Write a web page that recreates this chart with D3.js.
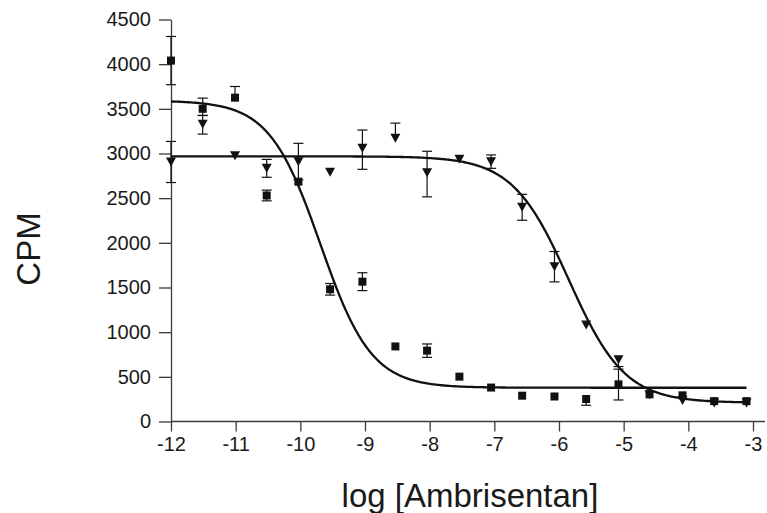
<!DOCTYPE html>
<html><head><meta charset="utf-8">
<script src="https://cdn.jsdelivr.net/npm/d3@7"></script>
<style>body{margin:0;background:#fff}svg{display:block}text{font-family:"Liberation Sans",Arial,sans-serif;fill:#1a1a1a}</style>
</head><body><svg id="c" width="767" height="513"></svg>
<script>
// log concentration of each dose
const logConc = [-12, -11.51, -11.01, -10.52, -10.03, -9.54, -9.04, -8.53, -8.04, -7.54, -7.05, -6.57, -6.07, -5.58, -5.08, -4.6, -4.09, -3.6, -3.1];
// squares
const sqCPM  = [4040, 3500, 3625, 2530, 2685, 1480, 1565, 840, 793, 502, 380, 289, 280, 252, 416, 304, 293, 228, 228];
const sqErrUp = [270, 120, 125, 60, 0, 65, 100, 0, 75, 0, 0, 0, 0, 0, 170, 0, 0, 0, 0];
const sqErrDn = [270, 75, 0, 60, 0, 65, 100, 0, 75, 0, 0, 0, 0, 70, 175, 0, 0, 0, 0];
// triangles
const trCPM  = [2905, 3327, 2976, 2834, 2909, 2790, 3058, 3170, 2785, 2936, 2909, 2398, 1733, 1080, 690, 300, 235, 207, 207];
const trErrUp = [230, 100, 0, 100, 205, 0, 205, 170, 240, 0, 75, 145, 170, 0, 0, 0, 0, 0, 0];
const trErrDn = [230, 110, 0, 100, 205, 0, 235, 0, 270, 0, 75, 145, 170, 0, 75, 0, 0, 0, 0];
// fitted curves: [top, bottom, logIC50, hill]
const sqFit = [3592, 378, -9.69, 1.1];
const trFit = [2968, 210, -5.85, 1.0];
const yTicks = [0, 500, 1000, 1500, 2000, 2500, 3000, 3500, 4000, 4500];
const xTicks = [-12, -11, -10, -9, -8, -7, -6, -5, -4, -3];

const svg = d3.select("#c");
const x = d3.scaleLinear().domain([-12, -3]).range([171, 753]);
const y = d3.scaleLinear().domain([0, 4500]).range([421.5, 19.5]);
const axCol = "#3a3a3a";

// axes
const gy = svg.append("g").attr("transform", "translate(171,0)")
  .call(d3.axisLeft(y).tickValues(yTicks).tickSize(12).tickSizeOuter(0).tickPadding(8).tickFormat(d => String(d)));
gy.select(".domain").attr("stroke", axCol).attr("stroke-width", 1.3);
gy.selectAll(".tick line").attr("stroke", axCol).attr("stroke-width", 1.3);
gy.selectAll("text").style("font-size", "20px").attr("fill", "#1a1a1a");

const gx = svg.append("g").attr("transform", "translate(0,421.5)")
  .call(d3.axisBottom(x).tickValues(xTicks).tickSize(10).tickSizeOuter(0).tickPadding(5).tickFormat(d => String(d)));
gx.select(".domain").remove();
gx.append("line").attr("x1", 171).attr("x2", 765).attr("y1", 0).attr("y2", 0).attr("stroke", axCol).attr("stroke-width", 1.3);
gx.selectAll(".tick line").attr("stroke", axCol).attr("stroke-width", 1.3);
gx.selectAll("text").style("font-size", "20px").attr("fill", "#1a1a1a");

// axis titles
svg.append("text").attr("transform", "translate(40,249) rotate(-90)").attr("text-anchor", "middle")
  .style("font-size", "33px").text("CPM");
svg.append("text").attr("x", 470).attr("y", 507).attr("text-anchor", "middle")
  .style("font-size", "33px").text("log [Ambrisentan]");

// curves
function curve(p) {
  const pts = d3.range(0, 401).map(i => {
    const lx = -12 + (logConc[logConc.length - 1] + 12) * i / 400;
    return [lx, p[1] + (p[0] - p[1]) / (1 + Math.pow(10, (lx - p[2]) * p[3]))];
  });
  return d3.line().x(d => x(d[0])).y(d => y(d[1]))(pts);
}
svg.append("path").attr("d", curve(sqFit)).attr("fill", "none").attr("stroke", "#111").attr("stroke-width", 2.3);
svg.append("path").attr("d", curve(trFit)).attr("fill", "none").attr("stroke", "#111").attr("stroke-width", 2.3);

// error bars
function errBars(vals, up, dn) {
  const g = svg.append("g").attr("stroke", "#111").attr("stroke-width", 1.2).attr("fill", "none");
  vals.forEach((v, i) => {
    const cx = x(logConc[i]);
    if (up[i] > 0) {
      g.append("line").attr("x1", cx).attr("x2", cx).attr("y1", y(v)).attr("y2", y(v + up[i]));
      g.append("line").attr("x1", cx - 5).attr("x2", cx + 5).attr("y1", y(v + up[i])).attr("y2", y(v + up[i]));
    }
    if (dn[i] > 0) {
      g.append("line").attr("x1", cx).attr("x2", cx).attr("y1", y(v)).attr("y2", y(v - dn[i]));
      g.append("line").attr("x1", cx - 5).attr("x2", cx + 5).attr("y1", y(v - dn[i])).attr("y2", y(v - dn[i]));
    }
  });
}
errBars(sqCPM, sqErrUp, sqErrDn);
errBars(trCPM, trErrUp, trErrDn);

// markers
svg.append("g").selectAll("path").data(trCPM).join("path")
  .attr("d", "M-5,-4.5L5,-4.5L0,4.5Z").attr("fill", "#111")
  .attr("transform", (d, i) => `translate(${x(logConc[i])},${y(d)})`);
svg.append("g").selectAll("rect").data(sqCPM).join("rect")
  .attr("x", (d, i) => x(logConc[i]) - 4).attr("y", d => y(d) - 4)
  .attr("width", 8).attr("height", 8).attr("fill", "#111");
</script></body></html>
